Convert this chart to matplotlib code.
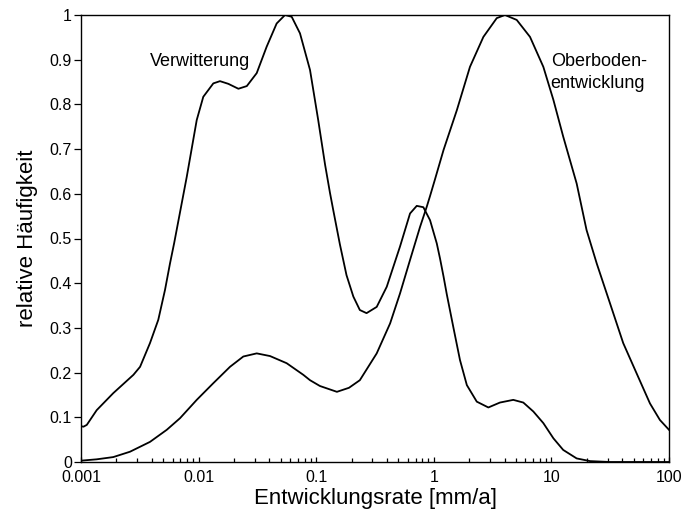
import matplotlib
matplotlib.use("Agg")
import matplotlib.pyplot as plt
from matplotlib.ticker import LogLocator, NullFormatter

plt.rcParams['font.family'] = ['Liberation Sans', 'DejaVu Sans']

# Verwitterung
verw_x = [0.001, 0.00105, 0.00112, 0.00136, 0.00188, 0.00279, 0.00318, 0.00386,
          0.00454, 0.00518, 0.00571, 0.0062, 0.00793, 0.00964, 0.01096, 0.01334,
          0.0152, 0.0179, 0.0218, 0.0257, 0.0312, 0.0379, 0.0461, 0.0543, 0.0619,
          0.0728, 0.0886, 0.104, 0.119, 0.131, 0.14, 0.159, 0.181, 0.207, 0.235, 0.268,
          0.327, 0.398, 0.516, 0.628, 0.716, 0.815, 0.929, 1.06, 1.13, 1.21, 1.29,
          1.47, 1.67, 1.91, 2.32, 2.91, 3.65, 4.74, 5.77, 7.02, 8.54, 10.4, 12.6,
          16.4, 21.3, 31.5, 100.0]
verw_y = [0.08, 0.079, 0.083, 0.116, 0.154, 0.195, 0.213, 0.266,
          0.318, 0.385, 0.444, 0.49, 0.638, 0.765, 0.817, 0.847,
          0.852, 0.846, 0.835, 0.841, 0.87, 0.929, 0.981, 1.0, 0.996,
          0.959, 0.877, 0.765, 0.665, 0.602, 0.562, 0.487, 0.418, 0.37, 0.34, 0.333,
          0.347, 0.392, 0.482, 0.556, 0.573, 0.57, 0.541, 0.489, 0.455, 0.415, 0.375,
          0.3, 0.228, 0.172, 0.135, 0.122, 0.133, 0.139, 0.133, 0.113, 0.087, 0.053, 0.027,
          0.008, 0.002, 0.0, 0.0]

# Oberbodenentwicklung
ober_x = [0.001, 0.00136, 0.00188, 0.00261, 0.00386, 0.00536, 0.00695, 0.00964,
          0.0133, 0.0185, 0.024, 0.0312, 0.0405, 0.0561, 0.0777, 0.0886, 0.1076,
          0.15, 0.19, 0.235, 0.327, 0.425, 0.516, 0.628, 0.764, 0.871, 0.929, 1.02,
          1.21, 1.57, 2.03, 2.64, 3.43, 4.03, 5.07, 6.58, 8.54, 10.4, 12.6, 16.4,
          19.9, 24.3, 31.5, 40.8, 53.1, 68.9, 83.7, 100.0]
ober_y = [0.003, 0.006, 0.011, 0.023, 0.045, 0.072, 0.098, 0.139,
          0.176, 0.213, 0.236, 0.243, 0.237, 0.221, 0.195, 0.183, 0.17,
          0.157, 0.166, 0.183, 0.243, 0.31, 0.377, 0.452, 0.526, 0.571, 0.595, 0.631,
          0.698, 0.787, 0.884, 0.951, 0.993, 1.0, 0.989, 0.951, 0.884, 0.81, 0.728, 0.623,
          0.519, 0.444, 0.355, 0.266, 0.198, 0.131, 0.094, 0.072]

yticks = [0, 0.1, 0.2, 0.3, 0.4, 0.5, 0.6, 0.7, 0.8, 0.9, 1]
yticklabels = ["0", "0.1", "0.2", "0.3", "0.4", "0.5", "0.6", "0.7", "0.8", "0.9", "1"]
xticks = [0.001, 0.01, 0.1, 1, 10, 100]
xticklabels = ["0.001", "0.01", "0.1", "1", "10", "100"]

fig = plt.figure(figsize=(6.98, 5.16), dpi=100)
ax = fig.add_axes([81/698, 54/516, 588/698, 447/516])

ax.plot(verw_x, verw_y, color='black', lw=1.3, solid_joinstyle='round')
ax.plot(ober_x, ober_y, color='black', lw=1.3, solid_joinstyle='round')

ax.set_xscale('log')
ax.set_xlim(0.001, 100)
ax.set_ylim(0, 1)

ax.set_xticks(xticks)
ax.set_xticklabels(xticklabels)
ax.xaxis.set_minor_locator(LogLocator(base=10, subs=range(2, 10)))
ax.xaxis.set_minor_formatter(NullFormatter())
ax.set_yticks(yticks)
ax.set_yticklabels(yticklabels)

ax.tick_params(axis='x', which='major', direction='in', length=3.5, width=0.9,
               labelsize=11.5, pad=6, top=False)
ax.tick_params(axis='x', which='minor', direction='in', length=3, width=0.9, top=False)
ax.tick_params(axis='y', which='major', direction='out', length=5, width=0.9,
               labelsize=11.5, pad=1.5, right=False)

for s in ax.spines.values():
    s.set_linewidth(1.0)

ax.set_xlabel("Entwicklungsrate [mm/a]", fontsize=16, labelpad=2)
ax.set_ylabel("relative Häufigkeit", fontsize=16, labelpad=8)

ax.text(0.00386, 0.886, "Verwitterung", fontsize=13, ha='left', va='baseline')
ax.text(9.86, 0.886, "Oberboden-", fontsize=13, ha='left', va='baseline')
ax.text(9.86, 0.836, "entwicklung", fontsize=13, ha='left', va='baseline')

fig.savefig("out.png", dpi=100)
